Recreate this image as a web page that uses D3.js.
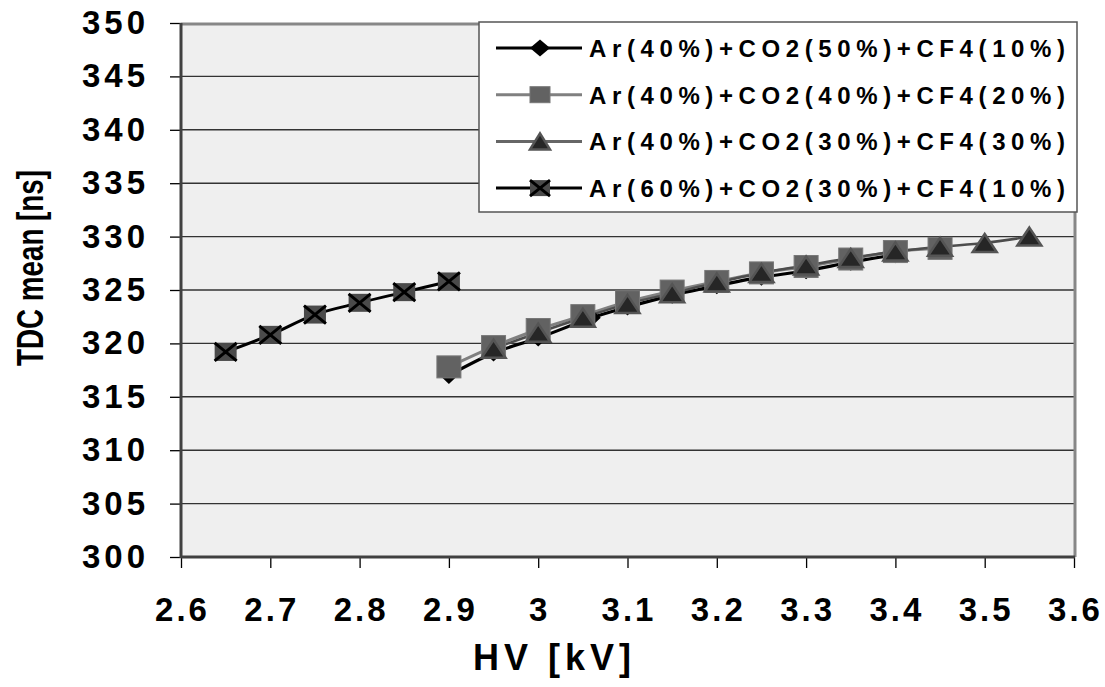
<!DOCTYPE html>
<html>
<head>
<meta charset="utf-8">
<script src="https://cdn.jsdelivr.net/npm/d3@7"></script>
<style>
body { margin: 0; background: #fff; }
text { font-family: "Liberation Sans", Arial, sans-serif; font-weight: bold; fill: #000; }
</style>
</head>
<body>
<div id="chart"></div>
<script>
// axis ticks
var hvTicks = [2.6, 2.7, 2.8, 2.9, 3.0, 3.1, 3.2, 3.3, 3.4, 3.5, 3.6];
var tdcTicks = [300, 305, 310, 315, 320, 325, 330, 335, 340, 345, 350];

var seriesNames = [
    "Ar(40%)+CO2(50%)+CF4(10%)",
    "Ar(40%)+CO2(40%)+CF4(20%)",
    "Ar(40%)+CO2(30%)+CF4(30%)",
    "Ar(60%)+CO2(30%)+CF4(10%)"
];

// series values
var hvA = [2.9, 2.95, 3.0, 3.06, 3.1, 3.15, 3.2, 3.25, 3.3, 3.35, 3.4];
var tdcA = [317.0, 319.1, 320.5, 322.4, 323.4, 324.5, 325.4, 326.2, 326.8, 327.6, 328.3];

var hvB = [2.9, 2.95, 3.0, 3.05, 3.1, 3.15, 3.2, 3.25, 3.3, 3.35, 3.4, 3.45];
var tdcB = [317.8, 319.7, 321.3, 322.6, 323.9, 324.9, 325.8, 326.6, 327.2, 327.9, 328.6, 328.9];

var hvC = [2.95, 3.0, 3.05, 3.1, 3.15, 3.2, 3.25, 3.3, 3.35, 3.4, 3.45, 3.5, 3.55];
var tdcC = [319.5, 321.0, 322.4, 323.7, 324.7, 325.7, 326.6, 327.3, 328.0, 328.6, 329.05, 329.4, 330.0];

var hvD = [2.65, 2.7, 2.75, 2.8, 2.85, 2.9];
var tdcD = [319.2, 320.8, 322.7, 323.8, 324.8, 325.8];

var width = 1105, height = 687;
var plot = { left: 181, top: 23, right: 1074, bottom: 557 };

var x = d3.scaleLinear().domain([2.6, 3.6]).range([plot.left, plot.right]);
var y = d3.scaleLinear().domain([300, 350]).range([plot.bottom, plot.top]);

var series = [
    { name: seriesNames[0], hv: hvA, tdc: tdcA, line: "#000", lw: 3.2, marker: "diamond" },
    { name: seriesNames[1], hv: hvB, tdc: tdcB, line: "#808080", lw: 3, marker: "square" },
    { name: seriesNames[2], hv: hvC, tdc: tdcC, line: "#4d4d4d", lw: 2.5, marker: "triangle" },
    { name: seriesNames[3], hv: hvD, tdc: tdcD, line: "#000", lw: 3, marker: "cross" }
];

var svg = d3.select("#chart").append("svg")
    .attr("width", width)
    .attr("height", height);

// plot area
svg.append("rect")
    .attr("x", plot.left).attr("y", plot.top)
    .attr("width", plot.right - plot.left)
    .attr("height", plot.bottom - plot.top)
    .attr("fill", "#efefef");

// grid lines
svg.append("g").selectAll("line")
    .data(tdcTicks.slice(1, -1))
    .enter().append("line")
    .attr("x1", plot.left).attr("x2", plot.right)
    .attr("y1", function(d) { return y(d); })
    .attr("y2", function(d) { return y(d); })
    .attr("stroke", "#333")
    .attr("stroke-width", 1.4);

// top / right border
svg.append("path")
    .attr("d", "M" + plot.left + "," + (plot.top + 1) + "H" + (plot.right + 1) + "V" + plot.bottom)
    .attr("fill", "none")
    .attr("stroke", "#878787")
    .attr("stroke-width", 3);

// axes
var yAxis = d3.axisLeft(y).tickValues(tdcTicks).tickSize(11).tickFormat("");
var xAxis = d3.axisBottom(x).tickValues(hvTicks).tickSize(11).tickFormat("");

svg.append("g")
    .attr("transform", "translate(" + plot.left + ",0)")
    .call(yAxis)
    .call(function(g) {
        g.select(".domain").remove();
        g.selectAll(".tick line").attr("stroke", "#000").attr("stroke-width", 1.3);
    });

svg.append("g")
    .attr("transform", "translate(0," + plot.bottom + ")")
    .call(xAxis)
    .call(function(g) {
        g.select(".domain").remove();
        g.selectAll(".tick line").attr("stroke", "#000").attr("stroke-width", 1.3);
    });

svg.append("line")
    .attr("x1", plot.left).attr("x2", plot.left)
    .attr("y1", plot.top).attr("y2", plot.bottom + 1)
    .attr("stroke", "#404040").attr("stroke-width", 3);
svg.append("line")
    .attr("x1", plot.left).attr("x2", plot.right + 1)
    .attr("y1", plot.bottom).attr("y2", plot.bottom)
    .attr("stroke", "#404040").attr("stroke-width", 3);

// tick labels
svg.append("g").selectAll("text")
    .data(tdcTicks)
    .enter().append("text")
    .attr("x", 145)
    .attr("y", function(d) { return y(d) + 11; })
    .attr("text-anchor", "end")
    .attr("font-size", 33)
    .attr("letter-spacing", 4)
    .attr("dx", 4)
    .text(function(d) { return d; });

svg.append("g").selectAll("text")
    .data(hvTicks)
    .enter().append("text")
    .attr("x", function(d) { return x(d); })
    .attr("y", 621)
    .attr("text-anchor", "middle")
    .attr("font-size", 33)
    .attr("letter-spacing", 3)
    .attr("dx", 1.5)
    .text(function(d) { return d3.format("")(+d.toFixed(1)); });

// axis titles
svg.append("text")
    .attr("transform", "translate(43,268) rotate(-90)")
    .attr("text-anchor", "middle")
    .attr("font-size", 36)
    .attr("textLength", 196)
    .attr("lengthAdjust", "spacingAndGlyphs")
    .text("TDC mean [ns]");

svg.append("text")
    .attr("x", 552)
    .attr("y", 670)
    .attr("text-anchor", "middle")
    .attr("font-size", 36)
    .attr("letter-spacing", 5)
    .attr("dx", 2.5)
    .text("HV [kV]");

// markers
function drawMarker(g, type, px, py, legend) {
    if (type == "diamond") {
        var w = legend ? 10 : 9, h = legend ? 8.5 : 8.5;
        g.append("path")
            .attr("d", "M" + px + "," + (py - h) + "L" + (px + w) + "," + py + "L" + px + "," + (py + h) + "L" + (px - w) + "," + py + "Z")
            .attr("fill", "#000");
    } else if (type == "square") {
        var sw = legend ? 10 : 12, sh = legend ? 8 : 11;
        g.append("rect")
            .attr("x", px - sw).attr("y", py - sh)
            .attr("width", 2 * sw).attr("height", 2 * sh)
            .attr("fill", "#626262")
            .attr("stroke", "#777").attr("stroke-width", 1);
    } else if (type == "triangle") {
        var tw = legend ? 10 : 12, th = legend ? 8 : 9;
        g.append("path")
            .attr("d", "M" + px + "," + (py - th) + "L" + (px + tw) + "," + (py + th) + "L" + (px - tw) + "," + (py + th) + "Z")
            .attr("fill", "#262626")
            .attr("stroke", "#555").attr("stroke-width", 2.5)
            .attr("stroke-linejoin", "miter");
    } else if (type == "cross") {
        var cw = legend ? 10 : 11, ch = legend ? 8 : 9;
        g.append("rect")
            .attr("x", px - cw).attr("y", py - ch)
            .attr("width", 2 * cw).attr("height", 2 * ch)
            .attr("fill", "#4a4a4a");
        g.append("path")
            .attr("d", "M" + (px - cw) + "," + (py - ch) + "L" + (px + cw) + "," + (py + ch) +
                "M" + (px + cw) + "," + (py - ch) + "L" + (px - cw) + "," + (py + ch))
            .attr("stroke", "#000").attr("stroke-width", 3);
    }
}

var line = d3.line()
    .x(function(d) { return x(d[0]); })
    .y(function(d) { return y(d[1]); })
    .curve(d3.curveCatmullRom.alpha(0.5));

// lines first, then markers (like the spreadsheet does)
var linesG = svg.append("g");
series.forEach(function(s) {
    linesG.append("path")
        .datum(d3.zip(s.hv, s.tdc))
        .attr("d", line)
        .attr("fill", "none")
        .attr("stroke", s.line)
        .attr("stroke-width", s.lw);
});

var markersG = svg.append("g");
series.forEach(function(s) {
    d3.zip(s.hv, s.tdc).forEach(function(p) {
        drawMarker(markersG, s.marker, x(p[0]), y(p[1]), false);
    });
});

// legend
var legend = svg.append("g");
legend.append("rect")
    .attr("x", 479).attr("y", 22)
    .attr("width", 598).attr("height", 190)
    .attr("fill", "#fff")
    .attr("stroke", "#555").attr("stroke-width", 1.5);

series.forEach(function(s, i) {
    var ly = 48 + i * 46.7;
    legend.append("line")
        .attr("x1", 496).attr("x2", 582)
        .attr("y1", ly).attr("y2", ly)
        .attr("stroke", s.line == "#4d4d4d" ? "#666" : s.line)
        .attr("stroke-width", 3);
    drawMarker(legend, s.marker, 540, ly, true);
    legend.append("text")
        .attr("x", 589)
        .attr("y", ly + 9)
        .attr("font-size", 24)
        .attr("textLength", 476)
        .attr("lengthAdjust", "spacing")
        .text(s.name);
});
</script>
</body>
</html>
